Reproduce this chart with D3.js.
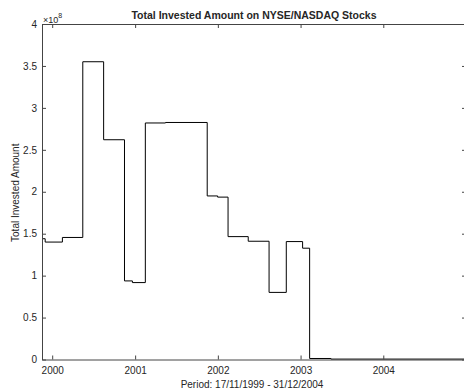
<!DOCTYPE html>
<html>
<head>
<meta charset="utf-8">
<script src="https://cdn.jsdelivr.net/npm/d3@7"></script>
<style>
  body { margin: 0; background: #fff; }
  text { font-family: "Liberation Sans", Arial, Helvetica, sans-serif; fill: #262626; }
</style>
</head>
<body>
<svg id="chart"></svg>
<script>
// Step dates (start of each holding period) and invested amount (x 1e8)
const stepDates = [
	"1999-11-17", "1999-12-01", "2000-02-15", "2000-05-15", "2000-08-15",
	"2000-11-15", "2000-12-20", "2001-02-15", "2001-05-15", "2001-11-15",
	"2001-12-31", "2002-02-15", "2002-05-15", "2002-08-15", "2002-10-30",
	"2003-01-10", "2003-02-10", "2003-05-15", "2004-12-31"
];
const stepValues = [
	1.44, 1.40, 1.455, 3.55, 2.62,
	0.937, 0.917, 2.82, 2.826, 1.95,
	1.936, 1.465, 1.41, 0.80, 1.406,
	1.327, 0.012, 0.005, 0.005
];
const yTicks = [0, 0.5, 1, 1.5, 2, 2.5, 3, 3.5, 4];
const yTickLabels = ["0", "0.5", "1", "1.5", "2", "2.5", "3", "3.5", "4"];
const xTickYears = [2000, 2001, 2002, 2003, 2004];

const titleText = "Total Invested Amount on NYSE/NASDAQ Stocks";
const xLabelText = "Period: 17/11/1999 - 31/12/2004";
const yLabelText = "Total Invested Amount";

// Chart dimensions
const width = 464;
const height = 392;
const marginLeft = 42;
const marginTop = 24;
const plotRight = 466;
const plotBottom = 359.5;
const tickLen = 4;
const axisColor = "#444";

const parse = d3.timeParse("%Y-%m-%d");
const data = stepDates.map((d, i) => ({date: parse(d), value: stepValues[i]}));

const xScale = d3.scaleTime()
	.domain([parse("1999-11-17"), parse("2004-12-31")])
	.range([marginLeft, plotRight]);

const yScale = d3.scaleLinear()
	.domain([0, 4])
	.range([plotBottom, marginTop]);

const svg = d3.select("#chart")
	.attr("width", width)
	.attr("height", height);

// Stairs line
const line = d3.line()
	.x(d => xScale(d.date))
	.y(d => yScale(d.value))
	.curve(d3.curveStepAfter);

svg.append("path")
	.datum(data)
	.attr("d", line)
	.attr("fill", "none")
	.attr("stroke", "#000")
	.attr("stroke-width", 1);

// Axes: bottom / left with labels, top / right mirrored ticks only
const xTickDates = xTickYears.map(y => new Date(y, 0, 1));

const xAxis = d3.axisBottom(xScale)
	.tickValues(xTickDates)
	.tickFormat(d3.timeFormat("%Y"))
	.tickSizeInner(-tickLen)
	.tickSizeOuter(0)
	.tickPadding(7);

const yAxis = d3.axisLeft(yScale)
	.tickValues(yTicks)
	.tickFormat((d, i) => yTickLabels[i])
	.tickSizeInner(-tickLen)
	.tickSizeOuter(0)
	.tickPadding(5);

const gx = svg.append("g")
	.attr("transform", `translate(0,${plotBottom})`)
	.call(xAxis);

const gy = svg.append("g")
	.attr("transform", `translate(${marginLeft},0)`)
	.call(yAxis);

const gxTop = svg.append("g")
	.attr("transform", `translate(0,${marginTop})`)
	.call(d3.axisTop(xScale).tickValues(xTickDates).tickFormat("").tickSizeInner(-tickLen).tickSizeOuter(0));

const gyRight = svg.append("g")
	.attr("transform", `translate(${plotRight},0)`)
	.call(d3.axisRight(yScale).tickValues(yTicks).tickFormat("").tickSizeInner(-tickLen).tickSizeOuter(0));

[gx, gy, gxTop, gyRight].forEach(g => {
	g.selectAll(".domain").attr("stroke", axisColor);
	g.selectAll(".tick line").attr("stroke", axisColor);
	g.selectAll(".tick text")
		.style("font-family", "'Liberation Sans', Arial, sans-serif")
		.style("font-size", "10px")
		.attr("fill", "#262626");
});

// Exponent label
const expo = svg.append("text")
	.attr("x", 43)
	.attr("y", 22.5)
	.style("font-size", "9px");
expo.append("tspan").text("\u00d710");
expo.append("tspan")
	.attr("dy", -5)
	.style("font-size", "7px")
	.text("8");

// Title
svg.append("text")
	.attr("x", (marginLeft + plotRight) / 2)
	.attr("y", 19)
	.attr("text-anchor", "middle")
	.style("font-size", "10.5px")
	.style("font-weight", "bold")
	.attr("fill", "#000")
	.text(titleText);

// X label
svg.append("text")
	.attr("x", (marginLeft + plotRight) / 2 - 2)
	.attr("y", 387.5)
	.attr("text-anchor", "middle")
	.style("font-size", "10px")
	.text(xLabelText);

// Y label
svg.append("text")
	.attr("transform", `translate(19,${(marginTop + plotBottom) / 2 + 1}) rotate(-90)`)
	.attr("text-anchor", "middle")
	.style("font-size", "10px")
	.text(yLabelText);
</script>
</body>
</html>
